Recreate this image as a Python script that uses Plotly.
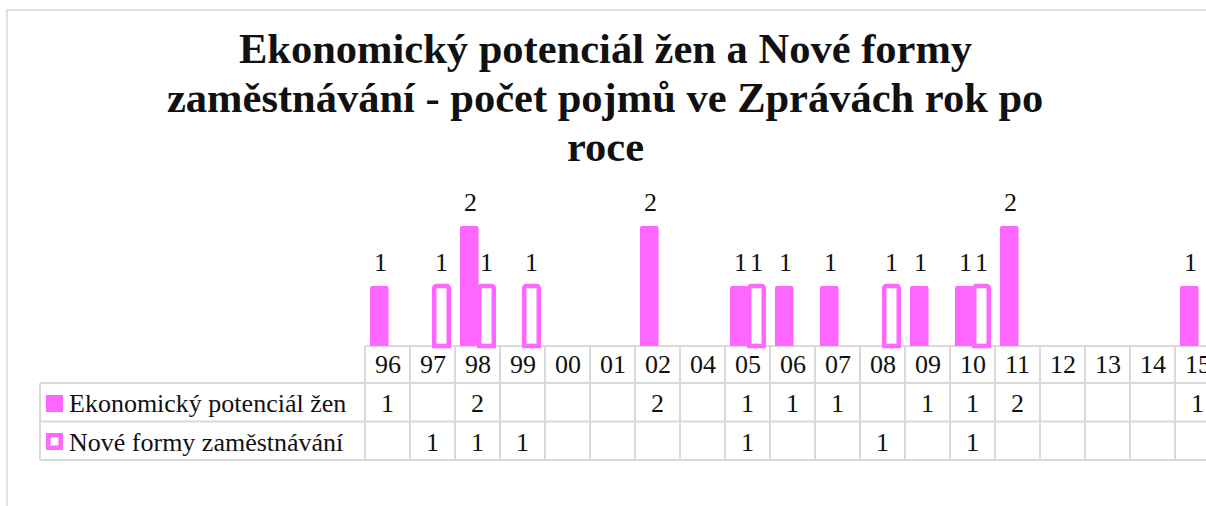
import plotly.graph_objects as go

# categories (years) and series values, None = empty cell
years = ["96", "97", "98", "99", "00", "01", "02", "04", "05", "06",
         "07", "08", "09", "10", "11", "12", "13", "14", "15"]
ekonomicky = [1, None, 2, None, None, None, 2, None, 1, 1,
              1, None, 1, 1, 2, None, None, None, 1]
nove_formy = [None, 1, 1, 1, None, None, None, None, 1, None,
              None, 1, None, 1, None, None, None, None, None]
series_names = ["Ekonomický potenciál žen", "Nové formy zaměstnávání"]
title_lines = ["Ekonomický potenciál žen a Nové formy",
               "zaměstnávání - počet pojmů ve Zprávách rok po",
               "roce"]

W, H = 1206, 506
MAG = "#FF66FF"
GRID = "#D9D9D9"
FONT = "Liberation Serif"
TXT = "#111"

# pixel layout helpers (plot area fills the whole figure)
COLW = 45.0          # width of one category column in px
X0_PX = 365.0        # left edge of first column
BASE_PX = 346.0      # bar baseline / top of table
UNIT_PX = 60.0       # px per unit value
x_lo = -(X0_PX + COLW / 2) / COLW
x_hi = x_lo + W / COLW
y_hi = BASE_PX / UNIT_PX
y_lo = (BASE_PX - H) / UNIT_PX

def xpx(p):
    return x_lo + p / COLW

def ypx(p):
    return (BASE_PX - p) / UNIT_PX

# bar geometry: (offset start px within column, width px, label x shift px)
geo = [(5.0, 18.5, -7.5), (24.25, 14.5, 9.0)]

fig = go.Figure()
fig.add_trace(go.Bar(x=years, y=ekonomicky, name=series_names[0],
                     offset=(geo[0][0] - COLW / 2) / COLW, width=geo[0][1] / COLW,
                     marker=dict(color=MAG, line=dict(width=0), cornerradius=2)))
fig.add_trace(go.Bar(x=years, y=nove_formy, name=series_names[1],
                     offset=(geo[1][0] - COLW / 2) / COLW, width=geo[1][1] / COLW,
                     marker=dict(color="white", line=dict(width=4.5, color=MAG), cornerradius=2)))

shapes = []
# outer chart border
shapes.append(dict(type="rect", xref="paper", yref="paper",
                   x0=7 / W, x1=1.05, y0=-0.05, y1=1 - 10 / H,
                   line=dict(color=GRID, width=1.5), layer="below"))
# data table grid
n = len(years)
rows_px = [383, 421.5, 460]
shapes.append(dict(type="line", xref="x", yref="y", x0=-0.5, x1=n - 0.5,
                   y0=0, y1=0, line=dict(color=GRID, width=2), layer="below"))
for r in rows_px:
    shapes.append(dict(type="line", xref="x", yref="y", x0=xpx(40), x1=n - 0.5,
                       y0=ypx(r), y1=ypx(r), line=dict(color=GRID, width=2), layer="below"))
for i in range(n + 1):
    shapes.append(dict(type="line", xref="x", yref="y", x0=i - 0.5, x1=i - 0.5,
                       y0=0, y1=ypx(rows_px[-1]), line=dict(color=GRID, width=2), layer="below"))
shapes.append(dict(type="line", xref="x", yref="y", x0=xpx(40), x1=xpx(40),
                   y0=ypx(rows_px[0]), y1=ypx(rows_px[-1]), line=dict(color=GRID, width=2), layer="below"))
# legend keys
shapes.append(dict(type="rect", xref="x", yref="y", x0=xpx(46), x1=xpx(63),
                   y0=ypx(412), y1=ypx(395), fillcolor=MAG, line=dict(width=0)))
shapes.append(dict(type="rect", xref="x", yref="y", x0=xpx(48.3), x1=xpx(60.7),
                   y0=ypx(447.7), y1=ypx(435.3), fillcolor="white", line=dict(width=4.5, color=MAG)))

annotations = []
# title, one annotation per line
for k, line in enumerate(title_lines):
    annotations.append(dict(x=0.502, y=1 - (48 + 49 * k) / H, xref="paper", yref="paper",
                            text="<b>" + line + "</b>", showarrow=False,
                            xanchor="center", yanchor="middle",
                            font=dict(family=FONT, size=42.5, color=TXT)))
# data labels above bars
for vals, g in zip((ekonomicky, nove_formy), geo):
    for i, v in enumerate(vals):
        if v is not None:
            annotations.append(dict(x=i, y=v, xref="x", yref="y", text=str(v),
                                    xshift=g[2], yshift=24, showarrow=False,
                                    font=dict(family=FONT, size=26, color=TXT)))
# data table text
row_centers = [364, 403, 442]
for i, y in enumerate(years):
    annotations.append(dict(x=i, y=ypx(row_centers[0]), xref="x", yref="y", text=y,
                            showarrow=False, font=dict(family=FONT, size=26, color=TXT)))
    for vals, rc in ((ekonomicky, row_centers[1]), (nove_formy, row_centers[2])):
        if vals[i] is not None:
            annotations.append(dict(x=i, y=ypx(rc), xref="x", yref="y", text=str(vals[i]),
                                    showarrow=False, font=dict(family=FONT, size=26, color=TXT)))
for name, rc in zip(series_names, row_centers[1:]):
    annotations.append(dict(x=xpx(67), y=ypx(rc), xref="x", yref="y", text=name,
                            xanchor="left", showarrow=False,
                            font=dict(family=FONT, size=26, color=TXT)))

fig.update_layout(
    width=W, height=H,
    margin=dict(l=0, r=0, t=0, b=0),
    paper_bgcolor="white", plot_bgcolor="white",
    barmode="overlay", showlegend=False,
    xaxis=dict(type="category", range=[x_lo, x_hi], visible=False),
    yaxis=dict(range=[y_lo, y_hi], visible=False),
    shapes=shapes, annotations=annotations,
)
fig.write_html("out.html", config={"displayModeBar": False},
               post_script="document.body.style.margin='0';document.body.style.overflow='hidden';")
